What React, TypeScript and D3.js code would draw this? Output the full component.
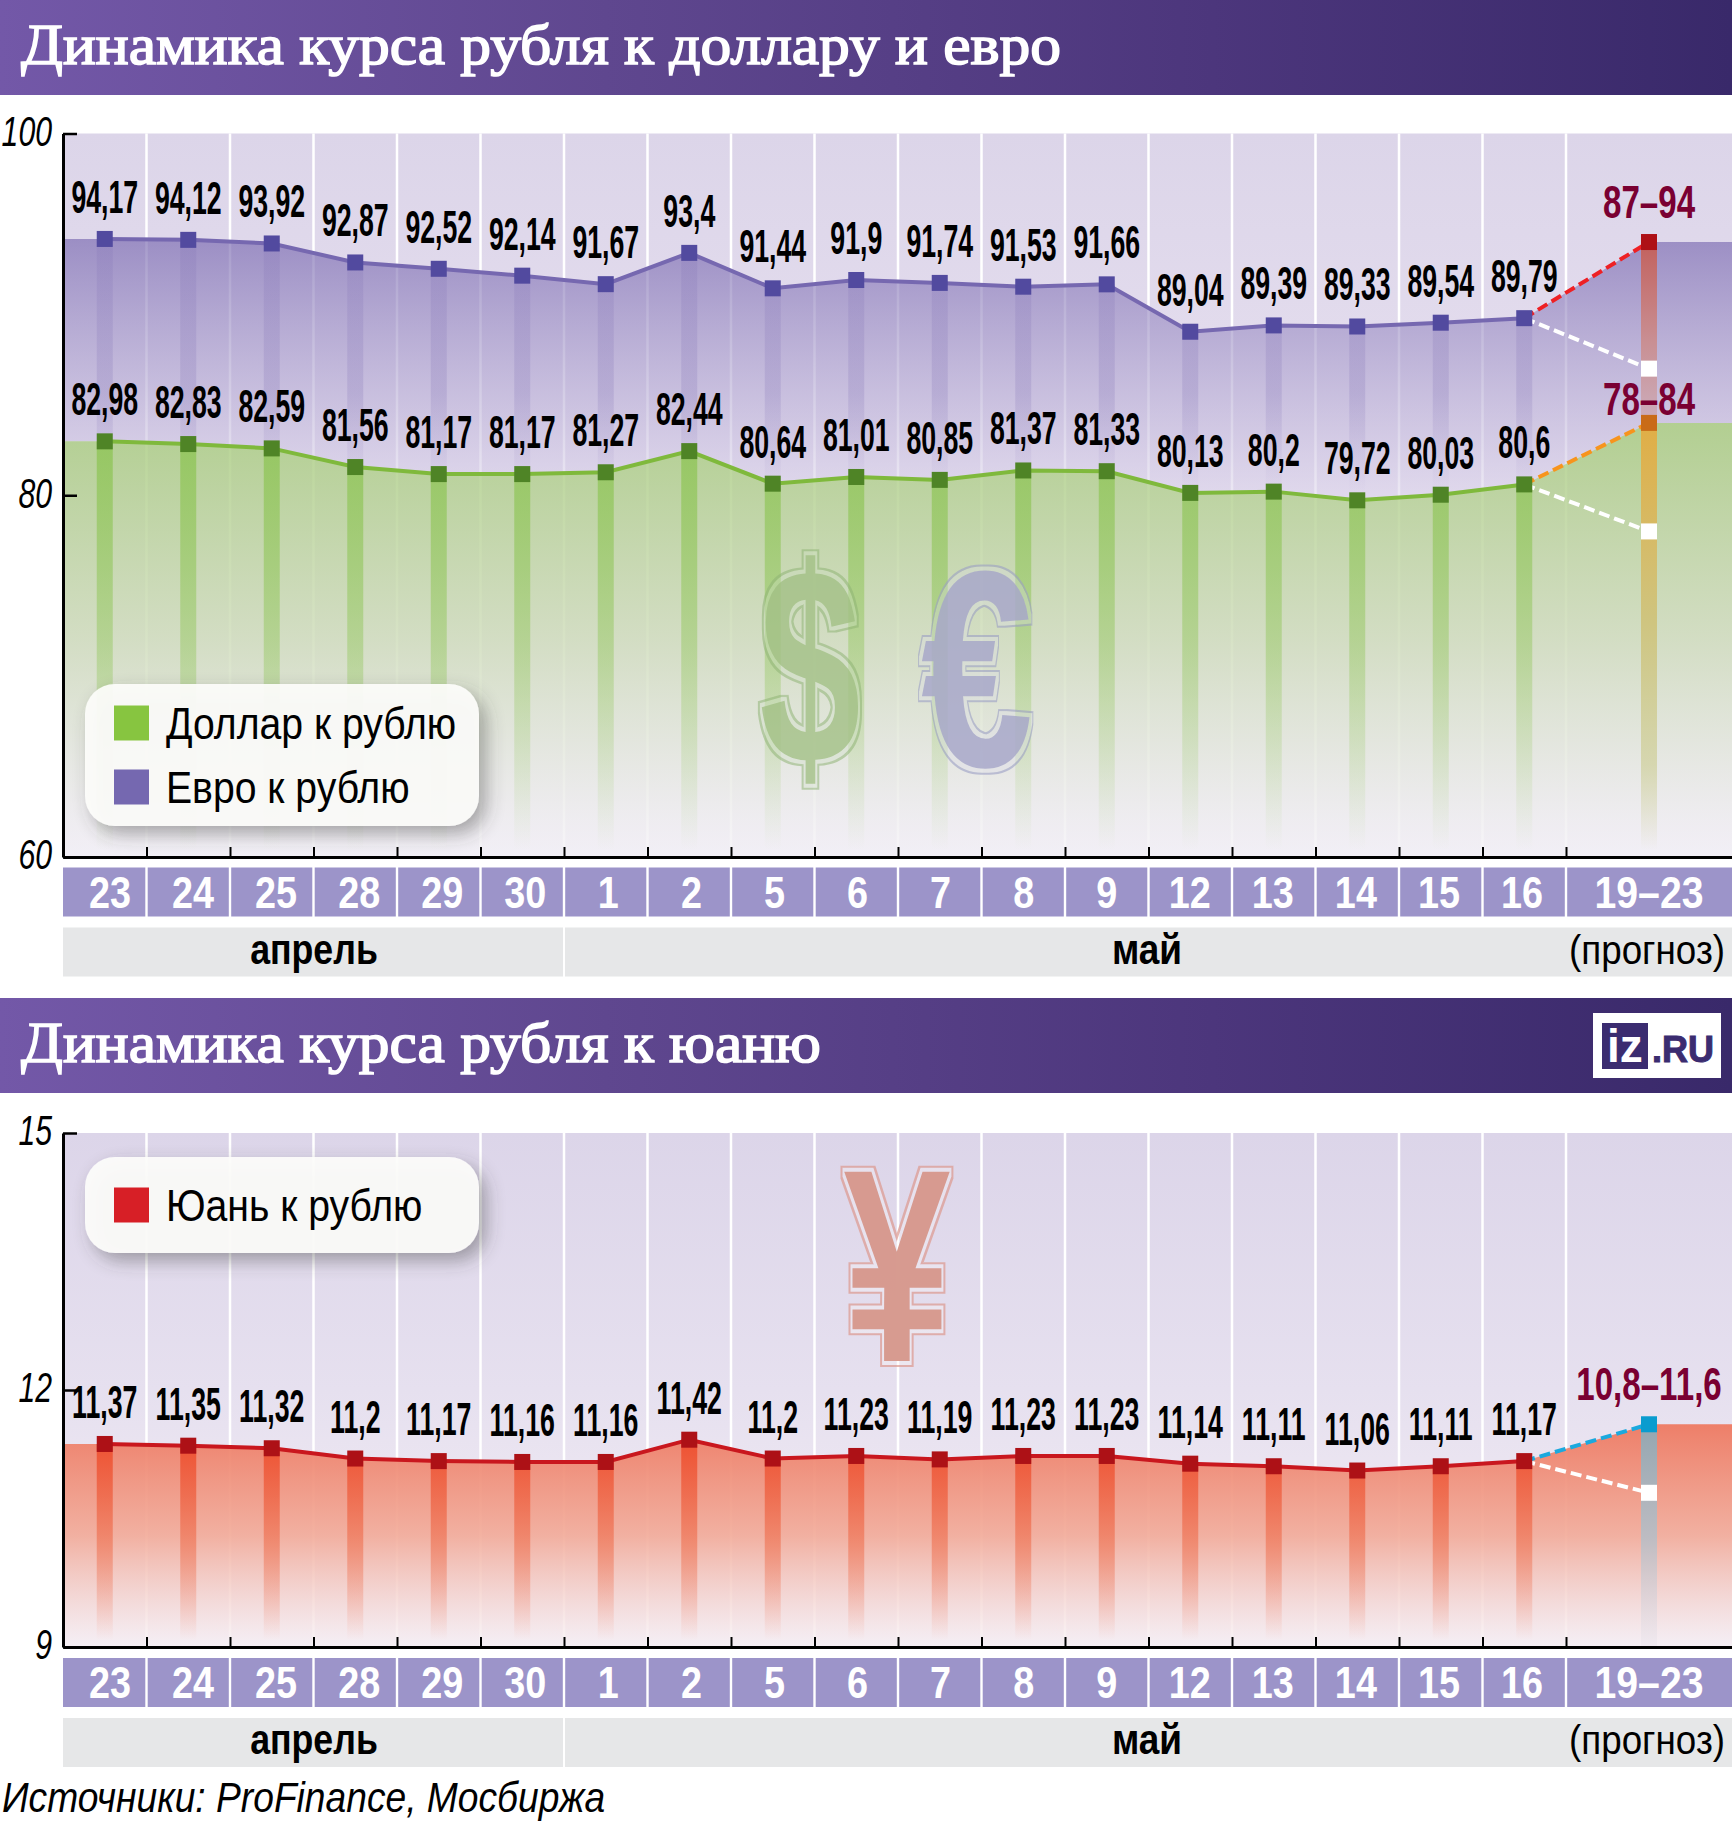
import React, { useEffect, useRef } from 'react';
import * as d3 from 'd3';

const days = ['23', '24', '25', '28', '29', '30', '1', '2', '5', '6', '7', '8', '9', '12', '13', '14', '15', '16'];
const forecastDay = '19–23';
const monthApril = 'апрель';
const monthMay = 'май';
const forecastNote = '(прогноз)';

const euroValues = [94.17, 94.12, 93.92, 92.87, 92.52, 92.14, 91.67, 93.4, 91.44, 91.9, 91.74, 91.53, 91.66, 89.04, 89.39, 89.33, 89.54, 89.79];
const dollarValues = [82.98, 82.83, 82.59, 81.56, 81.17, 81.17, 81.27, 82.44, 80.64, 81.01, 80.85, 81.37, 81.33, 80.13, 80.2, 79.72, 80.03, 80.6];
const yuanValues = [11.37, 11.35, 11.32, 11.2, 11.17, 11.16, 11.16, 11.42, 11.2, 11.23, 11.19, 11.23, 11.23, 11.14, 11.11, 11.06, 11.11, 11.17];

const euroForecast = [87, 94];
const dollarForecast = [78, 84];
const yuanForecast = [10.8, 11.6];

const fxTicks = [60, 80, 100];
const yuanTicks = [9, 12, 15];

const NARROW = '"Liberation Sans Narrow", "Liberation Sans", sans-serif';
const WIDTH = 1732;
const HEIGHT = 1823;
const plotLeft = 63;
const daysRight = 1566;
const plotRight = 1732;
const forecastX = (daysRight + plotRight) / 2;
const barWidth = 16;

const comma = (v: number) => String(v).replace('.', ',');

type Stop = [number, string, number?];

function addGradient(defs: any, id: string, from: number[], to: number[], stops: Stop[]) {
  const grad = defs.append('linearGradient')
    .attr('id', id)
    .attr('gradientUnits', 'userSpaceOnUse')
    .attr('x1', from[0]).attr('y1', from[1])
    .attr('x2', to[0]).attr('y2', to[1]);
  stops.forEach(([o, c, a]) => {
    grad.append('stop').attr('offset', o).attr('stop-color', c).attr('stop-opacity', a ?? 1);
  });
}

// кольцо вокруг знака валюты: внешний контур и светлый зазор
function addRingFilter(defs: any, id: string, ring: string) {
  const f = defs.append('filter').attr('id', id)
    .attr('x', '-25%').attr('y', '-15%').attr('width', '150%').attr('height', '130%')
    .attr('color-interpolation-filters', 'sRGB');
  f.append('feMorphology').attr('in', 'SourceAlpha').attr('operator', 'dilate').attr('radius', 6).attr('result', 'outer');
  f.append('feMorphology').attr('in', 'SourceAlpha').attr('operator', 'dilate').attr('radius', 3.5).attr('result', 'inner');
  f.append('feFlood').attr('flood-color', ring).attr('flood-opacity', 0.75).attr('result', 'ringColor');
  f.append('feComposite').attr('in', 'ringColor').attr('in2', 'outer').attr('operator', 'in').attr('result', 'ringFull');
  f.append('feComposite').attr('in', 'ringFull').attr('in2', 'inner').attr('operator', 'out').attr('result', 'ringOnly');
  f.append('feFlood').attr('flood-color', '#fff').attr('flood-opacity', 0.3).attr('result', 'gapColor');
  f.append('feComposite').attr('in', 'gapColor').attr('in2', 'inner').attr('operator', 'in').attr('result', 'gap');
  const merge = f.append('feMerge');
  merge.append('feMergeNode').attr('in', 'gap');
  merge.append('feMergeNode').attr('in', 'ringOnly');
  merge.append('feMergeNode').attr('in', 'SourceGraphic');
}

function putText(g: any, x: number, y: number, str: string, o: any = {}) {
  return g.append('text')
    .attr('transform', `translate(${x},${y}) scale(${o.sx ?? 1},1)`)
    .attr('text-anchor', o.anchor ?? 'start')
    .attr('font-family', o.family ?? NARROW)
    .attr('font-size', o.size ?? 40)
    .attr('font-weight', o.weight ?? 'normal')
    .attr('font-style', o.italic ? 'italic' : 'normal')
    .attr('fill', o.fill ?? '#000')
    .text(str);
}

function drawHeader(svg: any, top: number, title: string, width: number) {
  svg.append('rect').attr('x', 0).attr('y', top).attr('width', WIDTH).attr('height', 95).attr('fill', 'url(#headerGrad)');
  svg.append('text')
    .attr('x', 21).attr('y', top + 64)
    .attr('textLength', width).attr('lengthAdjust', 'spacingAndGlyphs')
    .attr('font-family', '"Liberation Serif", serif')
    .attr('font-size', 58)
    .attr('fill', '#fff').attr('stroke', '#fff').attr('stroke-width', 1.6)
    .text(title);
}

function drawStrips(svg: any, x: any, top: number) {
  const labelX = d3.scaleLinear().domain([0, days.length - 1]).range([110, 1522]);
  const cells = svg.append('g');
  days.forEach((d, i) => {
    cells.append('rect')
      .attr('x', x(d) + (i === 0 ? 0 : 1.2)).attr('y', top)
      .attr('width', x.bandwidth() - (i === 0 ? 1.2 : 2.4)).attr('height', 49)
      .attr('fill', '#9c94c9');
    putText(cells, labelX(i), top + 40, d, { size: 45, weight: 'bold', fill: '#fff', anchor: 'middle', sx: 0.84 });
  });
  cells.append('rect')
    .attr('x', daysRight + 1.2).attr('y', top)
    .attr('width', plotRight - daysRight).attr('height', 49)
    .attr('fill', '#9c94c9');
  putText(cells, forecastX, top + 40, forecastDay, { size: 45, weight: 'bold', fill: '#fff', anchor: 'middle', sx: 0.87 });

  const monthTop = top + 60;
  const split = x(days[6]);
  svg.append('rect').attr('x', plotLeft).attr('y', monthTop).attr('width', split - plotLeft - 1).attr('height', 49).attr('fill', '#e6e7e8');
  svg.append('rect').attr('x', split + 1).attr('y', monthTop).attr('width', plotRight - split).attr('height', 49).attr('fill', '#e6e7e8');
  putText(svg, 314, monthTop + 36, monthApril, { size: 42, weight: 'bold', anchor: 'middle', sx: 0.85 });
  putText(svg, 1147, monthTop + 36, monthMay, { size: 42, weight: 'bold', anchor: 'middle', sx: 0.88 });
  putText(svg, 1725, monthTop + 36, forecastNote, { size: 40, anchor: 'end', sx: 0.92 });
}

function drawAxes(svg: any, y: any, ticks: number[]) {
  const bottom = y.range()[0];
  const edge = d3.scaleLinear()
    .domain([0, (plotRight - plotLeft) / ((daysRight - plotLeft) / days.length)])
    .range([plotLeft, plotRight]);

  const bx = svg.append('g').attr('transform', `translate(0,${bottom})`)
    .call(d3.axisBottom(edge).tickValues(d3.range(1, days.length + 1)).tickSize(-10).tickSizeOuter(0).tickFormat(() => ''));
  bx.select('.domain').attr('stroke', '#000').attr('stroke-width', 3);
  bx.selectAll('.tick line').attr('stroke', '#000').attr('stroke-width', 2);

  const ax = svg.append('g').attr('transform', `translate(${plotLeft},0)`)
    .call(d3.axisLeft(y).tickValues(ticks).tickSize(-14).tickSizeOuter(0).tickFormat(d => String(d)));
  ax.select('.domain').attr('stroke', '#000').attr('stroke-width', 3);
  ax.selectAll('.tick line').attr('stroke', '#000').attr('stroke-width', 2.5);
  ax.selectAll('.tick text')
    .attr('x', 0).attr('dy', '0.28em')
    .attr('transform', 'translate(-11,0) scale(0.72,1)')
    .attr('text-anchor', 'end')
    .attr('font-family', NARROW).attr('font-size', 42).attr('font-style', 'italic')
    .attr('fill', '#000');
}

function drawSeries(svg: any, x: any, y: any, s: any) {
  const center = (d: string) => x(d) + x.bandwidth() / 2;
  const bottomValue = y.domain()[0];
  const baseAt = (i: number) => (s.base ? s.base[i] : bottomValue);
  const baseHigh = s.baseForecast ? s.baseForecast[1] : bottomValue;
  const high = s.forecast[1];

  const pts = [
    { px: plotLeft, v: s.values[0], b: baseAt(0) },
    ...days.map((d, i) => ({ px: center(d), v: s.values[i], b: baseAt(i) })),
    { px: forecastX, v: high, b: baseHigh },
    { px: plotRight, v: high, b: baseHigh },
  ];
  const area = d3.area<any>().x(d => d.px).y0(d => y(d.b)).y1(d => y(d.v));
  svg.append('path').attr('d', area(pts)).attr('fill', `url(#${s.id}Area)`);

  days.forEach((d, i) => {
    svg.append('rect')
      .attr('x', center(d) - barWidth / 2).attr('y', y(s.values[i]))
      .attr('width', barWidth).attr('height', y(baseAt(i)) - y(s.values[i]))
      .attr('fill', `url(#${s.id}Bar)`);
  });
  svg.append('rect')
    .attr('x', forecastX - barWidth / 2).attr('y', y(high))
    .attr('width', barWidth).attr('height', y(baseHigh) - y(high))
    .attr('fill', `url(#${s.id}Cast)`);
}

function drawSeriesTop(svg: any, x: any, y: any, s: any) {
  const center = (d: string) => x(d) + x.bandwidth() / 2;
  const [low, high] = s.forecast;
  const line = d3.line<number>().x((_, i) => center(days[i])).y(v => y(v));
  svg.append('path').attr('d', line(s.values)).attr('fill', 'none').attr('stroke', s.line).attr('stroke-width', s.lineWidth);

  const lastX = center(days[days.length - 1]);
  const lastV = s.values[s.values.length - 1];
  const dash = (v: number, color: string) => svg.append('line')
    .attr('x1', lastX).attr('y1', y(lastV)).attr('x2', forecastX).attr('y2', y(v))
    .attr('stroke', color).attr('stroke-width', 4).attr('stroke-dasharray', '11 5');
  dash(high, s.highDash);
  dash(low, '#fff');

  days.forEach((d, i) => {
    svg.append('rect')
      .attr('x', center(d) - barWidth / 2).attr('y', y(s.values[i]) - barWidth / 2)
      .attr('width', barWidth).attr('height', barWidth).attr('fill', s.marker);
    putText(svg, center(d), y(s.values[i]) - 26, comma(s.values[i]), { size: 46, weight: 'bold', anchor: 'middle', sx: 0.58 });
  });
  svg.append('rect').attr('x', forecastX - barWidth / 2).attr('y', y(high) - barWidth / 2).attr('width', barWidth).attr('height', barWidth).attr('fill', s.highMarker);
  svg.append('rect').attr('x', forecastX - barWidth / 2).attr('y', y(low) - barWidth / 2).attr('width', barWidth).attr('height', barWidth).attr('fill', '#fff');
  putText(svg, forecastX, y(high) - s.castGap, `${comma(low)}–${comma(high)}`, { size: 46, weight: 'bold', fill: '#7a0032', anchor: 'middle', sx: 0.72 });
}

function drawPanelBack(svg: any, x: any, y: any) {
  const [bottom, top] = y.range();
  svg.append('rect').attr('x', plotLeft).attr('y', top).attr('width', plotRight - plotLeft).attr('height', bottom - top).attr('fill', `url(#backGrad${top})`);
  days.forEach(d => {
    const ex = x(d) + x.bandwidth();
    svg.append('line').attr('x1', ex).attr('x2', ex).attr('y1', top).attr('y2', bottom).attr('stroke', '#fff').attr('stroke-width', 2.5);
  });
}

function drawSymbol(svg: any, cx: number, base: number, ch: string, o: any) {
  putText(svg, cx, base, ch, { size: o.size, weight: 'bold', family: '"Liberation Sans", sans-serif', anchor: 'middle', sx: o.sx, fill: o.fill })
    .attr('fill-opacity', o.alpha)
    .attr('filter', `url(#${o.filter})`);
}

function drawLegend(svg: any, top: number, height: number, items: string[][]) {
  svg.append('rect')
    .attr('x', 85).attr('y', top).attr('width', 394).attr('height', height).attr('rx', 30)
    .attr('fill', '#fdfdfb').attr('fill-opacity', 0.92).attr('filter', 'url(#legendShadow)');
  items.forEach(([label, color], i) => {
    const rowTop = top + (height - items.length * 35 - (items.length - 1) * 29) / 2 + i * 64;
    svg.append('rect').attr('x', 114).attr('y', rowTop).attr('width', 35).attr('height', 35).attr('fill', color);
    putText(svg, 166, rowTop + 33, label, { size: 44, sx: 0.89 });
  });
}

export default function App() {
  const ref = useRef<SVGSVGElement>(null);

  useEffect(() => {
    if (!ref.current) return;
    const svg = d3.select(ref.current);
    svg.selectAll('*').remove();
    const defs = svg.append('defs');

    const x = d3.scaleBand<string>().domain(days).range([plotLeft, daysRight]);
    const yFx = d3.scaleLinear().domain([60, 100]).range([857, 133.5]);
    const yYuan = d3.scaleLinear().domain([9, 15]).range([1647, 1133]);

    addGradient(defs, 'headerGrad', [0, 0], [WIDTH, 0], [[0, '#7358a8'], [0.35, '#5f478f'], [0.7, '#4c367c'], [1, '#39296a']]);
    addGradient(defs, 'backGrad133.5', [0, 133], [0, 857], [[0, '#dcd5e9'], [0.5, '#e7e0f0'], [1, '#f3f0f7']]);
    addGradient(defs, 'backGrad1133', [0, 1133], [0, 1647], [[0, '#dcd5e9'], [0.5, '#e6e0ef'], [1, '#f5eff5']]);

    addGradient(defs, 'euroArea', [0, 240], [0, 495], [[0, '#7c6cb2', 0.68], [1, '#d8d0e8', 0.5]]);
    addGradient(defs, 'euroBar', [0, 240], [0, 495], [[0, '#7c6cb2', 0.18], [0.6, '#7c6cb2', 0.22], [1, '#7c6cb2', 0]]);
    addGradient(defs, 'euroCast', [0, 240], [0, 425], [[0, '#c2605c'], [0.55, '#c98f93'], [1, '#ccafbe']]);

    addGradient(defs, 'dollarArea', [0, 425], [0, 857], [[0, '#a9cc80', 0.84], [0.5, '#cddbb8', 0.8], [0.9, '#ecebec', 0.7], [1, '#f1eef5', 0.6]]);
    addGradient(defs, 'dollarBar', [0, 440], [0, 850], [[0, '#8cc452', 0.75], [0.5, '#8cc452', 0.42], [1, '#8cc452', 0]]);
    addGradient(defs, 'dollarCast', [0, 425], [0, 850], [[0, '#e0ae46'], [0.45, '#cfc47e'], [0.8, '#cfcf9a', 0.7], [1, '#cfcf9a', 0]]);

    addGradient(defs, 'yuanArea', [0, 1425], [0, 1647], [[0, '#ee7a62', 0.95], [0.5, '#f2aa98', 0.9], [1, '#f5eff5', 0.6]]);
    addGradient(defs, 'yuanBar', [0, 1450], [0, 1640], [[0, '#ee5030', 0.9], [0.5, '#ee6a48', 0.55], [1, '#ee6a48', 0]]);
    addGradient(defs, 'yuanCast', [0, 1430], [0, 1645], [[0, '#96a7b1'], [0.5, '#bdbcc2'], [1, '#e8e2ea', 0.4]]);

    addRingFilter(defs, 'ringDollar', '#8fb274');
    addRingFilter(defs, 'ringEuro', '#9a9ec4');
    addRingFilter(defs, 'ringYuan', '#dc9a90');

    const shadow = defs.append('filter').attr('id', 'legendShadow').attr('x', '-15%').attr('y', '-25%').attr('width', '135%').attr('height', '160%');
    shadow.append('feDropShadow').attr('dx', 7).attr('dy', 8).attr('stdDeviation', 9).attr('flood-color', '#404040').attr('flood-opacity', 0.45);

    svg.append('rect').attr('width', WIDTH).attr('height', HEIGHT).attr('fill', '#fff');

    // Евро и доллар
    drawHeader(svg, 0, 'Динамика курса рубля к доллару и евро', 1040);
    drawPanelBack(svg, x, yFx);

    const euro = {
      id: 'euro', values: euroValues, forecast: euroForecast, base: dollarValues, baseForecast: dollarForecast,
      line: '#7668b0', lineWidth: 4, marker: '#524a9f', highMarker: '#ae1016', highDash: '#ee2024', castGap: 24,
    };
    const dollar = {
      id: 'dollar', values: dollarValues, forecast: dollarForecast,
      line: '#7fb93c', lineWidth: 4, marker: '#4f8426', highMarker: '#c96b18', highDash: '#f7941d', castGap: 8,
    };
    drawSeries(svg, x, yFx, euro);
    drawSeries(svg, x, yFx, dollar);
    drawSymbol(svg, 810, 763, '$', { size: 280, sx: 0.65, fill: '#9dbd7e', filter: 'ringDollar', alpha: 0.72 });
    drawSymbol(svg, 977, 766, '€', { size: 280, sx: 0.72, fill: '#a5a5c8', filter: 'ringEuro', alpha: 0.8 });
    drawSeriesTop(svg, x, yFx, euro);
    drawSeriesTop(svg, x, yFx, dollar);
    drawLegend(svg, 684, 142, [['Доллар к рублю', '#87c540'], ['Евро к рублю', '#7568b0']]);
    drawAxes(svg, yFx, fxTicks);
    drawStrips(svg, x, 867.5);

    // Юань
    drawHeader(svg, 998, 'Динамика курса рубля к юаню', 800);
    const logo = svg.append('g');
    logo.append('rect').attr('x', 1593).attr('y', 1013).attr('width', 128).attr('height', 65).attr('fill', '#fff');
    logo.append('rect').attr('x', 1602).attr('y', 1023).attr('width', 46).attr('height', 46).attr('fill', '#3b2c70');
    putText(logo, 1607, 1062, 'iz', { size: 46, weight: 'bold', family: '"Liberation Sans", sans-serif', fill: '#fff' });
    putText(logo, 1652, 1062, '.RU', { size: 36, weight: 'bold', family: '"Liberation Sans", sans-serif', fill: '#3b2c70' }).attr('stroke', '#3b2c70').attr('stroke-width', 1);

    drawPanelBack(svg, x, yYuan);
    const yuan = {
      id: 'yuan', values: yuanValues, forecast: yuanForecast,
      line: '#c9171e', lineWidth: 4, marker: '#ad1116', highMarker: '#0a9ccf', highDash: '#1ba9de', castGap: 24,
    };
    drawSeries(svg, x, yYuan, yuan);
    drawSymbol(svg, 897, 1361, '¥', { size: 275, sx: 0.7, fill: '#d6988c', filter: 'ringYuan', alpha: 0.97 });
    drawSeriesTop(svg, x, yYuan, yuan);
    drawLegend(svg, 1157, 96, [['Юань к рублю', '#d71f26']]);
    drawAxes(svg, yYuan, yuanTicks);
    drawStrips(svg, x, 1658);

    putText(svg, 2, 1812, 'Источники: ProFinance, Мосбиржа', { size: 43, italic: true, sx: 0.865 });
  }, []);

  return (
    <svg
      ref={ref}
      width={WIDTH}
      height={HEIGHT}
      viewBox={`0 0 ${WIDTH} ${HEIGHT}`}
      style={{ position: 'absolute', left: 0, top: 0, display: 'block' }}
    />
  );
}
